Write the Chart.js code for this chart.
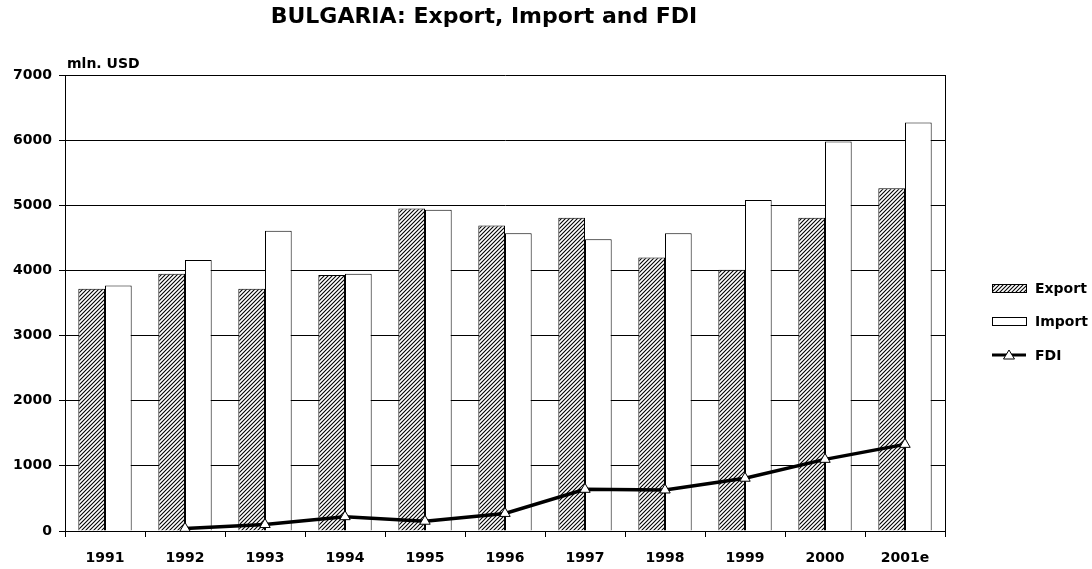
<!DOCTYPE html>
<html>
<head>
<meta charset="utf-8">
<script src="https://cdn.jsdelivr.net/npm/chart.js@4.4.1/dist/chart.umd.min.js"></script>
<style>
  html, body { margin: 0; padding: 0; background: #fff; }
  #wrap { width: 1092px; height: 569px; position: relative; }
</style>
</head>
<body>
<div id="wrap"><canvas id="chart" width="1092" height="569"></canvas></div>
<script>
// chart data
var years = ['1991', '1992', '1993', '1994', '1995', '1996', '1997', '1998', '1999', '2000', '2001e'];
var exportVals = [3720, 3950, 3720, 3930, 4950, 4690, 4810, 4200, 4010, 4810, 5260];
var importVals = [3770, 4160, 4610, 3950, 4930, 4570, 4480, 4570, 5080, 5980, 6270];
var fdiVals = [null, 40, 100, 220, 150, 270, 640, 630, 810, 1100, 1330];
var yTicks = [0, 1000, 2000, 3000, 4000, 5000, 6000, 7000];

var FONT = '"DejaVu Sans", Arial, sans-serif';

// diagonal hatch used for the export bars
function makeHatch() {
    var c = document.createElement('canvas');
    c.width = 4; c.height = 4;
    var g = c.getContext('2d');
    g.fillStyle = '#fff';
    g.fillRect(0, 0, 4, 4);
    g.strokeStyle = '#000';
    g.lineWidth = 1.1;
    g.beginPath();
    g.moveTo(-1, 5); g.lineTo(5, -1);
    g.moveTo(-1, 1); g.lineTo(1, -1);
    g.moveTo(3, 5); g.lineTo(5, 3);
    g.stroke();
    return g.createPattern(c, 'repeat');
}
var hatch = makeHatch();

// title, axis caption, right frame line and legend
var decorations = {
    id: 'decorations',
    afterDraw: function(chart) {
        var ctx = chart.ctx, area = chart.chartArea;
        ctx.save();
        ctx.strokeStyle = '#000';
        ctx.lineWidth = 1;
        ctx.beginPath();
        ctx.moveTo(area.right + 0.5, area.top);
        ctx.lineTo(area.right + 0.5, area.bottom);
        ctx.stroke();

        ctx.fillStyle = '#000';
        ctx.textBaseline = 'middle';
        ctx.textAlign = 'center';
        ctx.font = 'bold 22px ' + FONT;
        ctx.fillText('BULGARIA: Export, Import and FDI', 484, 17);

        ctx.textAlign = 'left';
        ctx.font = 'bold 14px ' + FONT;
        ctx.fillText('mln. USD', 67, 64);

        // legend
        var lx = 992, sw = 34;
        ctx.fillStyle = hatch;
        ctx.fillRect(lx, 284, sw, 8);
        ctx.strokeRect(lx + 0.5, 284.5, sw, 8);
        ctx.fillStyle = '#fff';
        ctx.fillRect(lx, 317, sw, 8);
        ctx.strokeRect(lx + 0.5, 317.5, sw, 8);

        ctx.lineWidth = 3;
        ctx.beginPath();
        ctx.moveTo(lx, 355); ctx.lineTo(lx + sw, 355);
        ctx.stroke();
        ctx.lineWidth = 1;
        ctx.fillStyle = '#fff';
        ctx.beginPath();
        ctx.moveTo(lx + sw / 2, 350); ctx.lineTo(lx + sw / 2 + 5.5, 359); ctx.lineTo(lx + sw / 2 - 5.5, 359);
        ctx.closePath();
        ctx.fill(); ctx.stroke();

        ctx.fillStyle = '#000';
        ctx.font = 'bold 14px ' + FONT;
        ctx.fillText('Export', 1035, 289);
        ctx.fillText('Import', 1035, 322);
        ctx.fillText('FDI', 1035, 356);
        ctx.restore();
    }
};

new Chart(document.getElementById('chart'), {
    type: 'bar',
    data: {
        labels: years,
        datasets: [
            {
                label: 'Export',
                data: exportVals,
                backgroundColor: hatch,
                borderColor: '#000',
                borderWidth: 1,
                categoryPercentage: 0.667,
                barPercentage: 1.0,
                order: 2
            },
            {
                label: 'Import',
                data: importVals,
                backgroundColor: '#fff',
                borderColor: '#000',
                borderWidth: 1,
                categoryPercentage: 0.667,
                barPercentage: 1.0,
                order: 2
            },
            {
                type: 'line',
                label: 'FDI',
                data: fdiVals,
                borderColor: '#000',
                borderWidth: 3.5,
                pointStyle: 'triangle',
                pointRadius: 6,
                pointBackgroundColor: '#fff',
                pointBorderColor: '#000',
                pointBorderWidth: 1,
                tension: 0,
                spanGaps: false,
                order: 0
            }
        ]
    },
    options: {
        responsive: false,
        animation: false,
        layout: { padding: { top: 75, right: 147, left: 0, bottom: 0 } },
        plugins: {
            legend: { display: false },
            title: { display: false },
            tooltip: { enabled: false }
        },
        scales: {
            x: {
                afterFit: function(scale) { scale.height = 38; },
                grid: {
                    drawOnChartArea: false,
                    drawTicks: true,
                    tickLength: 6,
                    color: '#000',
                    offset: true
                },
                border: { color: '#000', width: 1 },
                ticks: {
                    color: '#000',
                    padding: 13,
                    maxRotation: 0,
                    font: { family: FONT, size: 14, weight: 'bold' }
                }
            },
            y: {
                min: 0,
                max: 7000,
                afterFit: function(scale) { scale.width = 65; },
                afterBuildTicks: function(scale) {
                    scale.ticks = yTicks.map(function(v) { return { value: v }; });
                },
                grid: {
                    color: '#000',
                    lineWidth: 1,
                    tickLength: 6
                },
                border: { color: '#000', width: 1 },
                ticks: {
                    color: '#000',
                    padding: 7,
                    callback: function(v) { return String(v); },
                    font: { family: FONT, size: 14, weight: 'bold' }
                }
            }
        }
    },
    plugins: [decorations]
});
</script>
</body>
</html>
